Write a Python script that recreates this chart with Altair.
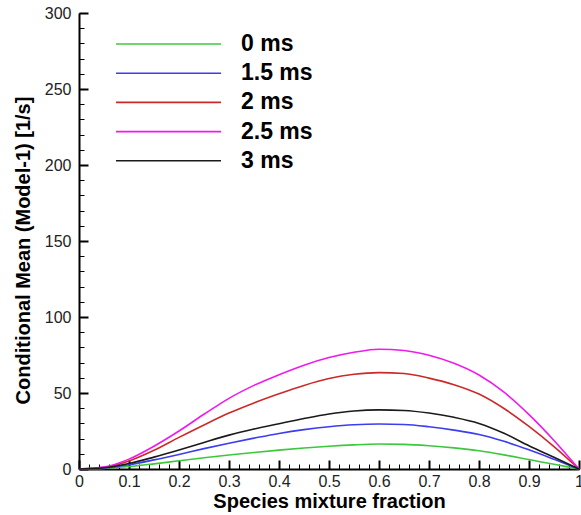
import altair as alt
import pandas as pd

# Mixture-fraction sample points and conditional mean values [1/s]
mixture_fraction = [0, 0.05, 0.1, 0.15, 0.2, 0.25, 0.3, 0.35, 0.4, 0.45, 0.5,
                    0.55, 0.6, 0.65, 0.7, 0.75, 0.8, 0.85, 0.9, 0.95, 1.0]
mean_0ms = [0, 0.4, 1.6, 3.4, 5.4, 7.4, 9.2, 10.9, 12.4, 13.8, 15,
            15.9, 16.4, 16.2, 15.3, 13.9, 12, 9.3, 6.2, 3.1, 0]
mean_1_5ms = [0, 0.7, 2.8, 6, 9.6, 13.4, 17, 20.3, 23.4, 25.9, 27.8,
              29.1, 29.6, 29.3, 27.8, 25.6, 22.7, 18.2, 12.6, 6.4, 0]
mean_2ms = [0, 1.1, 5.3, 12.3, 20.8, 29, 36.8, 43.5, 49.5, 55, 59.5,
            62.3, 63.4, 62.8, 59.8, 55.5, 49.3, 39.8, 28, 14.7, 0]
mean_2_5ms = [0, 1.3, 6.5, 15, 25, 36, 46.5, 55, 62, 68.3, 73.3,
              76.8, 78.8, 78.0, 74.8, 69.5, 61.8, 50.5, 35.8, 18.8, 0]
mean_3ms = [0, 0.8, 3.6, 7.8, 12.5, 17.5, 22.3, 26.3, 29.8, 33.2, 36.2,
            38.2, 38.9, 38.5, 36.8, 34, 30, 23.5, 15.3, 7.7, 0]

times = ["0 ms", "1.5 ms", "2 ms", "2.5 ms", "3 ms"]
colors = ["#3cc83c", "#3c3cf0", "#cc2929", "#ee1aee", "#1a1a1a"]

x_ticks = [0, 0.1, 0.2, 0.3, 0.4, 0.5, 0.6, 0.7, 0.8, 0.9, 1]
y_ticks = [0, 50, 100, 150, 200, 250, 300]
x_minor = [round(i * 0.02, 2) for i in range(51)]
y_minor = list(range(0, 301, 10))

rows = []
for label, series in zip(times, [mean_0ms, mean_1_5ms, mean_2ms, mean_2_5ms, mean_3ms]):
    for z, v in zip(mixture_fraction, series):
        rows.append({"z": z, "rate": v, "time": label})
df = pd.DataFrame(rows)

font = "Liberation Sans"
x_scale = alt.Scale(domain=[0, 1], nice=False, zero=False)
y_scale = alt.Scale(domain=[0, 300], nice=False)

# Minor ticks: an invisible copy of the curves carrying tick-only axes
minor = alt.Chart(df).mark_line(opacity=0).encode(
    x=alt.X("z:Q", scale=x_scale, axis=alt.Axis(
        orient="bottom", values=x_minor, labels=False, domain=False, grid=False,
        tickSize=alt.ExprRef(expr="-5"), tickWidth=1, tickColor="black", title=None)),
    y=alt.Y("rate:Q", scale=y_scale, axis=alt.Axis(
        orient="left", values=y_minor, labels=False, domain=False, grid=False,
        tickSize=alt.ExprRef(expr="-5"), tickWidth=1, tickColor="black", title=None)),
    detail="time:N",
)

lines = alt.Chart(df).mark_line(strokeWidth=1.6, interpolate="monotone").encode(
    x=alt.X("z:Q", scale=x_scale, axis=alt.Axis(
        orient="bottom", values=x_ticks, format="~g", grid=False,
        tickSize=alt.ExprRef(expr="-9"), tickWidth=2, tickColor="black",
        domainColor="black", domainWidth=2,
        labelFont=font, labelFontSize=16, labelColor="#222", labelPadding=13,
        labelFlush=False, labelOverlap=False,
        title="Species mixture fraction", titleFont=font, titleFontSize=20,
        titleFontWeight="bold", titleColor="black", titlePadding=2)),
    y=alt.Y("rate:Q", scale=y_scale, axis=alt.Axis(
        orient="left", values=y_ticks, grid=False,
        tickSize=alt.ExprRef(expr="-9"), tickWidth=2, tickColor="black",
        domainColor="black", domainWidth=2,
        labelFont=font, labelFontSize=16, labelColor="#222", labelPadding=17,
        labelFlush=False, labelOverlap=False,
        title="Conditional Mean (Model-1) [1/s]", titleFont=font, titleFontSize=20,
        titleFontWeight="bold", titleColor="black", titlePadding=11, titleY=237)),
    color=alt.Color("time:N", sort=times,
                    scale=alt.Scale(domain=times, range=colors),
                    legend=alt.Legend(
                        title=None, orient="none", legendX=78, legendY=19.5,
                        symbolType="M-12,0H12", symbolSize=76.6,
                        symbolStrokeWidth=1.6, symbolFillColor="transparent",
                        labelFont=font, labelFontSize=23, labelFontWeight="bold",
                        labelColor="black", labelOffset=61, rowPadding=5.2,
                        padding=0, labelLimit=0)),
)

chart = alt.layer(minor, lines).resolve_axis(x="independent", y="independent").properties(
    width=500, height=456,
    autosize=alt.AutoSizeParams(type="none"),
    padding={"left": 79, "top": 13, "right": 2, "bottom": 46},
    background="white",
).configure_view(stroke=None)

chart.save("out.html", embed_options={"renderer": "svg", "actions": False})
